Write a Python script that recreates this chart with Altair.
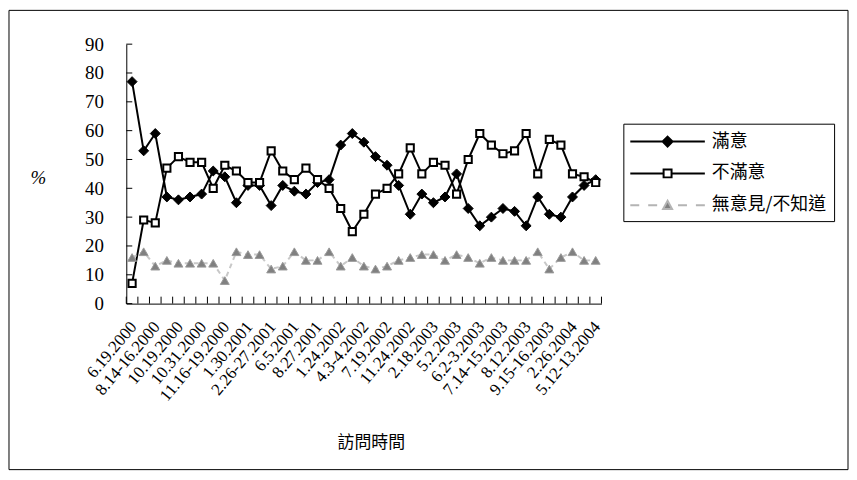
import altair as alt
import pandas as pd

# ---------------- data ----------------
series_names = ["滿意", "不滿意", "無意見/不知道"]

tick_labels = ["6.19.2000", "8.14-16.2000", "10.19.2000", "10.31.2000", "11.16-19.2000",
               "1.30.2001", "2.26-27.2001", "6.5.2001", "8.27.2001", "1.24.2002",
               "4.3-4.2002", "7.19.2002", "11.24.2002", "2.18.2003", "5.2.2003",
               "6.2-3.2003", "7.14-15.2003", "8.12.2003", "9.15-16.2003", "2.26.2004",
               "5.12-13.2004"]

satisfied = [77, 53, 59, 37, 36, 37, 38, 46, 44, 35, 41, 41, 34, 41, 39, 38, 42, 43, 55, 59,
             56, 51, 48, 41, 31, 38, 35, 37, 45, 33, 27, 30, 33, 32, 27, 37, 31, 30, 37, 41, 43]
dissatisfied = [7, 29, 28, 47, 51, 49, 49, 40, 48, 46, 42, 42, 53, 46, 43, 47, 43, 40, 33, 25,
                31, 38, 40, 45, 54, 45, 49, 48, 38, 50, 59, 55, 52, 53, 59, 45, 57, 55, 45, 44, 42]
no_opinion = [16, 18, 13, 15, 14, 14, 14, 14, 8, 18, 17, 17, 12, 13, 18, 15, 15, 18, 13, 16,
              13, 12, 13, 15, 16, 17, 17, 15, 17, 16, 14, 16, 15, 15, 15, 18, 12, 16, 18, 15, 15]

y_ticks = list(range(0, 100, 10))

n = len(satisfied)
x_ticks = list(range(0, n + 1))

rows = []
for name, vals in zip(series_names, [satisfied, dissatisfied, no_opinion]):
    for i, v in enumerate(vals):
        rows.append({"series": name, "pos": i + 0.5, "value": v})
df = pd.DataFrame(rows)

W, H = 478, 261
SERIF = "Liberation Serif"
CJK = "Noto Sans CJK TC"

label_values = [i + 0.5 for i in range(0, n, 2)]
label_expr = "[" + ",".join("'%s'" % s for s in tick_labels) + "][floor(datum.value / 2)]"

xscale = alt.Scale(domain=[0, n], nice=False, zero=False)
yscale = alt.Scale(domain=[0, 90], nice=False)

x_axis = alt.Axis(values=label_values, labelExpr=label_expr, ticks=False, tickSize=0,
                  grid=False, domainColor="black", domainWidth=1,
                  labelAngle=-50, labelAlign="right", labelBaseline="top",
                  labelFont=SERIF, labelFontSize=17, labelColor="black",
                  labelPadding=15, labelOffset=-5, labelOverlap=False, labelBound=False,
                  labelFlush=False,
                  title="訪問時間", titleFont=CJK, titleFontSize=17, titleFontWeight="normal",
                  titleColor="black", titleX=246, titleY=140, titleAlign="center",
                  titleBaseline="middle")
y_axis = alt.Axis(values=y_ticks, ticks=False, tickSize=0, grid=False, domainColor="black",
                  domainWidth=1, labelFont=SERIF, labelFontSize=19, labelColor="black",
                  labelPadding=23, labelAlign="right", labelBaseline="middle",
                  title="%", titleFont=SERIF, titleFontStyle="italic", titleFontSize=19,
                  titleFontWeight="normal", titleColor="black", titleAngle=0,
                  titleX=-89, titleY=134, titleAlign="center", titleBaseline="middle")

base = alt.Chart(df)

def series_layers(name, color, dash, shape, fill, stroke, size, sw):
    sub = base.transform_filter(alt.datum.series == name)
    line_kwargs = dict(color=color, strokeWidth=2)
    if dash:
        line_kwargs["strokeDash"] = dash
    line = sub.mark_line(**line_kwargs).encode(
        x=alt.X("pos:Q", scale=xscale, axis=x_axis),
        y=alt.Y("value:Q", scale=yscale, axis=y_axis),
    )
    pts = sub.mark_point(shape=shape, filled=True, fill=fill, stroke=stroke,
                         strokeWidth=sw, size=size, opacity=1).encode(
        x=alt.X("pos:Q", scale=xscale, axis=x_axis),
        y=alt.Y("value:Q", scale=yscale, axis=y_axis),
    )
    return [line, pts]

layers = []
layers += series_layers("滿意", "black", None, "diamond", "black", "black", 100, 1)
layers += series_layers("不滿意", "black", None, "square", "white", "black", 52, 2)
layers += series_layers("無意見/不知道", "#c8c8c8", [5, 4], "triangle-up", "#808080", "#999999", 80, 1)

# inward tick marks
ytick_layer = alt.Chart(pd.DataFrame({"v": y_ticks})).mark_rule(color="black", strokeWidth=1).encode(
    y=alt.Y("v:Q", scale=yscale, axis=y_axis), x=alt.value(0), x2=alt.value(6))
xtick_layer = alt.Chart(pd.DataFrame({"v": x_ticks})).mark_rule(color="black", strokeWidth=1).encode(
    x=alt.X("v:Q", scale=xscale, axis=x_axis), y=alt.value(H - 7), y2=alt.value(H))

# legend symbols: line + marker drawn as custom paths (unit = 10 px)
p_diamond = "M-1.1,0H6.4M2.65,-0.5L3.15,0L2.65,0.5L2.15,0Z"
p_square = "M-1.1,0H2.25M3.05,0H6.4M2.25,-0.4H3.05V0.4H2.25Z"
p_tri = ("M-1.1,0H-0.2M0.7,0H1.6M3.7,0H4.6M5.5,0H6.4"
         "M2.65,-0.45L3.1,0.38H2.2Z")

legend = alt.Legend(title=None, orient="none", legendX=500, legendY=80,
                    symbolSize=400, symbolStrokeWidth=2,
                    labelFont=CJK, labelFontSize=18, labelColor="black", labelOffset=60,
                    strokeColor="black", fillColor="white", padding=7, rowPadding=12)
leg_scale_dom = series_names
legend_layer = alt.Chart(alt.Data(values=[])).mark_point(filled=True, strokeWidth=2, opacity=1).encode(
    shape=alt.Shape("series:N", scale=alt.Scale(domain=leg_scale_dom, range=[p_diamond, p_square, p_tri]), legend=legend),
    fill=alt.Fill("series:N", scale=alt.Scale(domain=leg_scale_dom, range=["black", "white", "#808080"]), legend=legend),
    stroke=alt.Stroke("series:N", scale=alt.Scale(domain=leg_scale_dom, range=["black", "black", "#b4b4b4"]), legend=legend),
)

frame = alt.Chart(pd.DataFrame({"a": [0]})).mark_rect(fillOpacity=0, stroke="black", strokeWidth=1).encode(
    x=alt.value(-118), x2=alt.value(W + 248), y=alt.value(-34), y2=alt.value(H + 167))

chart = alt.layer(frame, *layers, ytick_layer, xtick_layer, legend_layer).properties(
    width=W, height=H, padding=0, background="white"
).configure_view(strokeWidth=0)

chart.save("out.html", embed_options={"renderer": "svg", "actions": False})
